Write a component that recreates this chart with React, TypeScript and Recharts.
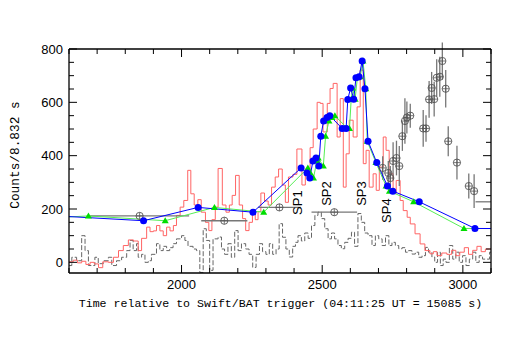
import React from 'react';
import { ComposedChart, Line, Scatter, XAxis, YAxis, ErrorBar } from 'recharts';

// axis ticks
const xTicks = [1600, 1700, 1800, 1900, 2000, 2100, 2200, 2300, 2400, 2500, 2600, 2700, 2800, 2900, 3000, 3100];
const yTicks = [0, 50, 100, 150, 200, 250, 300, 350, 400, 450, 500, 550, 600, 650, 700, 750, 800];
const X_MIN = 1600;
const X_MAX = 3100;

// red light curve, [bin start (s), counts]
const redBins: [number, number][] = [
  [1600, 2], [1615, 8], [1630, -2], [1645, 4], [1660, -8], [1675, 0], [1690, -6], [1705, -20],
  [1720, 2], [1740, 0], [1758, 19], [1776, 44], [1793, 63], [1811, 84], [1829, 80], [1846, 44],
  [1858, 90], [1876, 132], [1888, 115], [1900, 118], [1911, 138], [1923, 118], [1935, 100], [1947, 132],
  [1959, 118], [1971, 138], [1982, 176], [1995, 207], [2008, 232], [2022, 345], [2033, 257], [2045, 215],
  [2058, 235], [2070, 188], [2085, 150], [2097, 119], [2108, 160], [2120, 207], [2130, 352], [2145, 215],
  [2158, 188], [2170, 215], [2180, 251], [2192, 326], [2205, 215], [2217, 164], [2228, 119], [2240, 150],
  [2252, 182], [2262, 160], [2272, 190], [2282, 260], [2295, 230], [2308, 215], [2320, 282], [2333, 320],
  [2345, 350], [2358, 290], [2369, 225], [2380, 320], [2396, 330], [2410, 425], [2428, 290], [2440, 350],
  [2457, 430], [2468, 500], [2482, 600], [2493, 596], [2503, 489], [2518, 596], [2528, 652], [2539, 671],
  [2553, 470], [2564, 614], [2575, 282], [2585, 407], [2596, 533], [2610, 470], [2624, 583], [2635, 721],
  [2646, 370], [2656, 420], [2667, 282], [2681, 332], [2692, 270], [2703, 357], [2717, 470], [2727, 420],
  [2738, 332], [2752, 258], [2763, 307], [2777, 232], [2788, 194], [2802, 169], [2813, 144], [2830, 107],
  [2848, 69], [2865, 44], [2883, 32], [2895, 40], [2908, 25], [2925, 35], [2943, 30], [2960, 45],
  [2975, 25], [2989, 38], [3005, 55], [3020, 30], [3035, 45], [3050, 60], [3065, 40], [3080, 50],
  [3095, 50], [3110, 50],
];

// grey dashed light curve, [bin start (s), counts]
const greyBins: [number, number][] = [
  [1600, -12], [1610, 19], [1627, 6], [1645, 100], [1657, 44], [1669, -12], [1692, 19], [1704, -5],
  [1722, 6], [1740, 19], [1752, -12], [1769, 6], [1787, 19], [1805, 44], [1817, 82], [1828, 44],
  [1840, 70], [1846, 19], [1858, 30], [1870, 0], [1882, 6], [1893, 30], [1911, 70], [1923, 44],
  [1935, 60], [1947, 44], [1958, 55], [1970, 70], [1982, 88], [2000, 100], [2012, 82], [2023, 60],
  [2041, 50], [2053, 44], [2065, -38], [2077, 126], [2088, 82], [2100, -30], [2112, 88], [2130, 95],
  [2142, 50], [2153, 30], [2165, 70], [2177, 19], [2189, 119], [2201, 44], [2213, 70], [2228, 50],
  [2240, 30], [2253, -19], [2265, 30], [2277, 70], [2288, 40], [2300, 30], [2312, 70], [2324, 30],
  [2336, 50], [2347, 145], [2359, 94], [2371, 50], [2383, 20], [2395, 60], [2405, 75], [2414, 100],
  [2426, 80], [2438, 110], [2450, 90], [2462, 138], [2474, 176], [2485, 188], [2497, 164], [2509, 126],
  [2521, 88], [2533, 110], [2544, 88], [2556, 63], [2568, 51], [2580, 75], [2592, 90], [2604, 113],
  [2615, 60], [2627, 183], [2639, 150], [2651, 110], [2663, 100], [2677, 63], [2689, 100], [2701, 88],
  [2713, 63], [2725, 100], [2737, 63], [2748, 75], [2760, 63], [2772, 51], [2784, 55], [2796, 38],
  [2807, 44], [2819, 31], [2831, 38], [2843, 19], [2855, 25], [2867, 56], [2878, 38], [2890, 20],
  [2900, 0], [2910, 38], [2920, -12], [2930, 12], [2940, 0], [2952, 63], [2964, 12], [2975, 38],
  [2987, 0], [2999, 25], [3011, -12], [3023, 12], [3035, 38], [3046, 0], [3058, 25], [3070, 12],
  [3082, 12], [3095, 38], [3110, 38],
];

// the same counts drawn on three time scales
const fluxCounts = [165, 174, 156, 206, 188, 354, 335, 316, 380, 391, 361, 473, 530, 543, 550, 502, 502, 611, 654, 612, 692, 696, 755, 651, 454, 374, 286, 267, 227, 127, 126];
const blueTimes = [1300, 1560, 1865, 2059, 2254, 2425, 2446, 2456, 2467, 2478, 2488, 2495, 2505, 2517, 2527, 2571, 2585, 2591, 2601, 2612, 2620, 2631, 2642, 2652, 2663, 2694, 2732, 2751, 2845, 3043, 3300];
const greenTimes = [1500, 1669, 1942, 2117, 2292, 2449, 2458, 2469, 2481, 2486, 2504, 2512, 2524, 2535, 2545, 2590, 2597, 2603, 2608, 2617, 2625, 2635, 2645, 2655, 2660, 2691, 2727, 2739, 2825, 3004, 3300];
const circleTimes = [1400, 1851, 2152, 2348, 2543, 2715, 2735, 2742, 2752, 2764, 2774, 2785, 2794, 2801, 2813, 2859, 2869, 2880, 2889, 2898, 2907, 2918, 2927, 2939, 2948, 2979, 3021, 3040, 3135, 3400, 3500];
const circleTimeErr = [0, 176, 82, 76, 81, 0, 0, 0, 0, 0, 0, 0, 0, 0, 0, 0, 0, 0, 0, 0, 0, 0, 0, 0, 0, 0, 0, 0, 90, 0, 0];
const circleCountErr = [0, 0, 0, 0, 0, 44, 45, 45, 70, 65, 75, 55, 85, 60, 45, 69, 50, 69, 60, 65, 70, 75, 69, 70, 56, 63, 47, 63, 0, 0, 0];

// annotations
const spLabels = ['SP1', 'SP2', 'SP3', 'SP4'];
const spTimes = [2413, 2516, 2640, 2730];
const spCounts = [224, 258, 258, 194];

const redData = redBins.map(([x, y]) => ({ x, y }));
const greyData = greyBins.map(([x, y]) => ({ x, y }));
const blueData = blueTimes.map((x, i) => ({ x, y: fluxCounts[i] }));
const greenData = greenTimes.map((x, i) => ({ x, y: fluxCounts[i] }));
// error bars are cut at the frame by hand, the scatter layer is not clipped
const circleData = circleTimes
  .map((x, i) => {
    const e = circleTimeErr[i];
    return {
      x,
      e,
      y: fluxCounts[i],
      xErr: [Math.min(e, x - X_MIN), Math.min(e, X_MAX - x)],
      yErr: circleCountErr[i],
    };
  })
  .filter((p) => p.x + p.e > X_MIN && p.x - p.e < X_MAX);
const spData = spLabels.map((text, i) => ({ x: spTimes[i], y: spCounts[i], text }));

const SANS = '"Liberation Sans", Arial, Helvetica, sans-serif';
const MONO = '"Liberation Mono", "Courier New", monospace';

const BottomTick = (props: any) => {
  const { x, y, payload } = props;
  const major = payload.value % 500 === 0;
  return (
    <g>
      <line x1={x} x2={x} y1={y} y2={y - (major ? 8 : 5)} stroke="#000" />
      {major && (
        <text x={x} y={y + 16} textAnchor="middle" fontSize={13} fontFamily={SANS} fill="#000">
          {payload.value}
        </text>
      )}
    </g>
  );
};

const TopTick = (props: any) => {
  const { x, y, payload } = props;
  const major = payload.value % 500 === 0;
  return <line x1={x} x2={x} y1={y} y2={y + (major ? 8 : 5)} stroke="#000" />;
};

const LeftTick = (props: any) => {
  const { x, y, payload } = props;
  const major = payload.value % 200 === 0;
  return (
    <g>
      <line x1={x} x2={x + (major ? 8 : 5)} y1={y} y2={y} stroke="#000" />
      {major && (
        <text x={x - 6} y={y + 4.5} textAnchor="end" fontSize={13} fontFamily={SANS} fill="#000">
          {payload.value}
        </text>
      )}
    </g>
  );
};

const RightTick = (props: any) => {
  const { x, y, payload } = props;
  const major = payload.value % 200 === 0;
  return <line x1={x} x2={x - (major ? 8 : 5)} y1={y} y2={y} stroke="#000" />;
};

const Triangle = (props: any) => {
  const { cx, cy, index } = props;
  if (cx == null || cy == null) return <g key={index} />;
  return <polygon key={index} points={`${cx},${cy - 3.5} ${cx - 3.5},${cy + 2.5} ${cx + 3.5},${cy + 2.5}`} fill="#00dd00" />;
};

const CrossCircle = (props: any) => {
  const { cx, cy, payload } = props;
  if (payload.x > X_MAX || payload.x < X_MIN) return <g />;
  return (
    <g>
      <circle cx={cx} cy={cy} r={3.6} fill="none" stroke="#555" strokeWidth={0.9} />
      <line x1={cx - 3.6} x2={cx + 3.6} y1={cy} y2={cy} stroke="#555" strokeWidth={0.8} />
      <line x1={cx} x2={cx} y1={cy - 3.6} y2={cy + 3.6} stroke="#555" strokeWidth={0.8} />
    </g>
  );
};

const SpLabel = (props: any) => {
  const { cx, cy, payload } = props;
  return (
    <text
      x={cx}
      y={cy}
      transform={`rotate(-90 ${cx} ${cy})`}
      textAnchor="middle"
      dominantBaseline="central"
      fontSize={13}
      fontFamily={SANS}
      fill="#000"
    >
      {payload.text}
    </text>
  );
};

export default function App() {
  return (
    <div style={{ position: 'fixed', left: 0, top: 0, width: 518, height: 359, background: '#fff' }}>
      <ComposedChart width={518} height={359} margin={{ top: 48, right: 26, bottom: 85, left: 68 }}>
        <XAxis
          type="number"
          dataKey="x"
          domain={[X_MIN, X_MAX]}
          allowDataOverflow
          ticks={xTicks}
          interval={0}
          height={1}
          tickSize={0}
          tickMargin={0}
          tickLine={false}
          tick={BottomTick}
          axisLine={{ stroke: '#000', strokeWidth: 1.3 }}
        />
        <XAxis
          xAxisId="top"
          orientation="top"
          type="number"
          dataKey="x"
          domain={[X_MIN, X_MAX]}
          allowDataOverflow
          ticks={xTicks}
          interval={0}
          height={1}
          tickSize={0}
          tickMargin={0}
          tickLine={false}
          tick={TopTick}
          axisLine={{ stroke: '#000', strokeWidth: 1.3 }}
        />
        <YAxis
          type="number"
          domain={[-40, 800]}
          allowDataOverflow
          ticks={yTicks}
          interval={0}
          width={1}
          tickSize={0}
          tickMargin={0}
          tickLine={false}
          tick={LeftTick}
          axisLine={{ stroke: '#000', strokeWidth: 1.3 }}
        />
        <YAxis
          yAxisId="right"
          orientation="right"
          type="number"
          domain={[-40, 800]}
          allowDataOverflow
          ticks={yTicks}
          interval={0}
          width={1}
          tickSize={0}
          tickMargin={0}
          tickLine={false}
          tick={RightTick}
          axisLine={{ stroke: '#000', strokeWidth: 1.3 }}
        />
        <Line
          data={greyData}
          dataKey="y"
          type="stepAfter"
          stroke="#666"
          strokeWidth={1}
          strokeDasharray="5 2"
          dot={false}
          isAnimationActive={false}
        />
        <Line
          data={redData}
          dataKey="y"
          type="stepAfter"
          stroke="#ff6464"
          strokeWidth={1}
          dot={false}
          isAnimationActive={false}
        />
        <Scatter data={circleData} dataKey="y" shape={CrossCircle} isAnimationActive={false}>
          <ErrorBar dataKey="xErr" direction="x" width={0} stroke="#777" strokeWidth={1.3} />
          <ErrorBar dataKey="yErr" direction="y" width={0} stroke="#777" strokeWidth={1.3} />
        </Scatter>
        <Line
          data={greenData}
          dataKey="y"
          type="linear"
          stroke="#55ee55"
          strokeWidth={1}
          dot={Triangle}
          isAnimationActive={false}
        />
        <Line
          data={blueData}
          dataKey="y"
          type="linear"
          stroke="#0000ff"
          strokeWidth={1}
          dot={{ r: 3.5, fill: '#0000ff', stroke: 'none' }}
          isAnimationActive={false}
        />
        <Scatter data={spData} dataKey="y" shape={SpLabel} isAnimationActive={false} />
      </ComposedChart>
      <div
        style={{
          position: 'absolute',
          left: 280.5,
          top: 303,
          transform: 'translate(-50%, -50%)',
          whiteSpace: 'nowrap',
          fontFamily: MONO,
          fontSize: 11.6,
          color: '#000',
        }}
      >
        Time relative to Swift/BAT trigger (04:11:25 UT = 15085 s)
      </div>
      <div
        style={{
          position: 'absolute',
          left: 15,
          top: 155,
          transform: 'translate(-50%, -50%) rotate(-90deg)',
          whiteSpace: 'nowrap',
          fontFamily: MONO,
          fontSize: 12.8,
          color: '#000',
        }}
      >
        Counts/8.832 s
      </div>
    </div>
  );
}
